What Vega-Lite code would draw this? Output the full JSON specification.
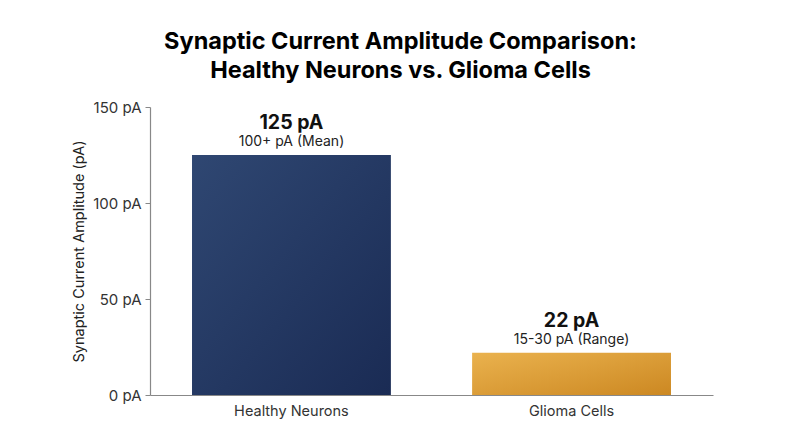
{
  "$schema": "https://vega.github.io/schema/vega-lite/v6.json",
  "width": 563,
  "height": 288,
  "autosize": {"type": "none"},
  "padding": {"left": 150, "top": 107, "right": 87, "bottom": 52},
  "background": "white",
  "config": {
    "font": "Inter",
    "view": {"stroke": null}
  },
  "title": {
    "text": ["Synaptic Current Amplitude Comparison:", "Healthy Neurons vs. Glioma Cells"],
    "fontSize": 23.5,
    "lineHeight": 29,
    "fontWeight": "bold",
    "color": "#000000",
    "font": "Inter",
    "anchor": "middle",
    "dx": -31,
    "offset": 18
  },
  "data": {
    "values": [
      {"category": "Healthy Neurons", "value": 125, "label": "125 pA", "sub": "100+ pA (Mean)"},
      {"category": "Glioma Cells", "value": 22, "label": "22 pA", "sub": "15-30 pA (Range)"}
    ]
  },
  "encoding": {
    "x": {
      "field": "category",
      "type": "nominal",
      "sort": ["Healthy Neurons", "Glioma Cells"],
      "scale": {"paddingInner": 0.29, "paddingOuter": 0.15},
      "axis": {
        "title": null,
        "labelAngle": 0,
        "labelFontSize": 14.5,
        "labelColor": "#333333",
        "labelPadding": 9,
        "ticks": false,
        "domainColor": "#888888",
        "domainWidth": 1.2
      }
    },
    "y": {
      "field": "value",
      "type": "quantitative",
      "scale": {"domain": [0, 150]},
      "axis": {
        "title": "Synaptic Current Amplitude (pA)",
        "titleFontSize": 14.5,
        "titleFontWeight": "normal",
        "titleColor": "#222222",
        "titlePadding": 6,
        "values": [0, 50, 100, 150],
        "labelExpr": "datum.value + ' pA'",
        "labelFontSize": 15,
        "labelColor": "#333333",
        "labelPadding": 4,
        "grid": false,
        "tickSize": 5,
        "tickColor": "#888888",
        "domainColor": "#888888",
        "domainWidth": 1.2
      }
    }
  },
  "layer": [
    {
      "transform": [{"filter": "datum.category === 'Healthy Neurons'"}],
      "mark": {
        "type": "bar",
        "color": {
          "gradient": "linear",
          "x1": 0, "y1": 0, "x2": 1, "y2": 1,
          "stops": [
            {"offset": 0, "color": "#2f4772"},
            {"offset": 1, "color": "#1a2b54"}
          ]
        }
      }
    },
    {
      "transform": [{"filter": "datum.category === 'Glioma Cells'"}],
      "mark": {
        "type": "bar",
        "color": {
          "gradient": "linear",
          "x1": 0, "y1": 0, "x2": 1, "y2": 1,
          "stops": [
            {"offset": 0, "color": "#eab24e"},
            {"offset": 1, "color": "#cc8822"}
          ]
        }
      }
    },
    {
      "mark": {"type": "text", "baseline": "alphabetic", "dy": -26, "fontSize": 19.5, "fontWeight": "bold", "color": "#111111"},
      "encoding": {"text": {"field": "label"}}
    },
    {
      "mark": {"type": "text", "baseline": "alphabetic", "dy": -9, "fontSize": 14, "color": "#222222"},
      "encoding": {"text": {"field": "sub"}}
    }
  ]
}
